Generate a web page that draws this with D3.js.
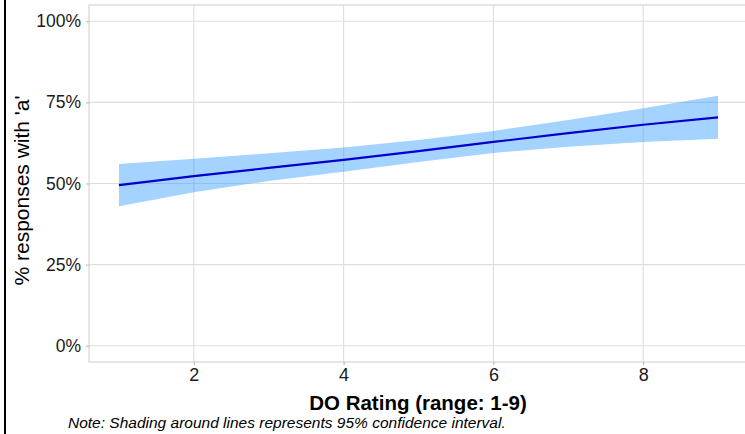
<!DOCTYPE html>
<html>
<head>
<meta charset="utf-8">
<script src="https://cdn.jsdelivr.net/npm/d3@7"></script>
<style>
  body { margin: 0; background: #fff; }
  svg { display: block; font-family: "Liberation Sans", Arial, sans-serif; }
</style>
</head>
<body>
<svg id="chart" width="745" height="434"></svg>
<script>
// values (proportion of 'a' responses)
const ratings = [1, 2, 3, 4, 5, 6, 7, 8, 9];
const fitted  = [0.495, 0.523, 0.548, 0.573, 0.600, 0.628, 0.655, 0.681, 0.704];
const upper   = [0.560, 0.576, 0.593, 0.611, 0.634, 0.662, 0.696, 0.732, 0.770];
const lower   = [0.430, 0.473, 0.508, 0.536, 0.566, 0.594, 0.613, 0.628, 0.638];
const xTicks = [2, 4, 6, 8];
const yTicks = [0, 0.25, 0.5, 0.75, 1];

const rows = ratings.map((r, i) => ({x: r, y: fitted[i], lo: lower[i], hi: upper[i]}));

const svg = d3.select("#chart");
const panel = {left: 89, right: 748, top: 5, bottom: 362};

// ggplot-style 5% expansion
const x = d3.scaleLinear().domain([0.6, 9.4]).range([panel.left, panel.right]);
const y = d3.scaleLinear().domain([-0.05, 1.05]).range([panel.bottom, panel.top]);

// left black border of the image
svg.append("line")
  .attr("x1", 5).attr("x2", 5).attr("y1", 0).attr("y2", 434)
  .attr("stroke", "#000").attr("stroke-width", 2);

// gridlines
svg.append("g").selectAll("line").data(yTicks).join("line")
  .attr("x1", panel.left).attr("x2", panel.right)
  .attr("y1", d => y(d)).attr("y2", d => y(d))
  .attr("stroke", "#dedede").attr("stroke-width", 1.1);
svg.append("g").selectAll("line").data(xTicks).join("line")
  .attr("y1", panel.top).attr("y2", panel.bottom)
  .attr("x1", d => x(d)).attr("x2", d => x(d))
  .attr("stroke", "#dedede").attr("stroke-width", 1.1);

// confidence ribbon
svg.append("path")
  .datum(rows)
  .attr("fill", "dodgerblue").attr("fill-opacity", 0.4)
  .attr("d", d3.area().x(d => x(d.x)).y0(d => y(d.lo)).y1(d => y(d.hi)));

// fitted line
svg.append("path")
  .datum(rows)
  .attr("fill", "none").attr("stroke", "#0000cd").attr("stroke-width", 2.2)
  .attr("d", d3.line().x(d => x(d.x)).y(d => y(d.y)));

// panel border
svg.append("rect")
  .attr("x", panel.left).attr("y", panel.top)
  .attr("width", panel.right - panel.left).attr("height", panel.bottom - panel.top)
  .attr("fill", "none").attr("stroke", "#d0d0d0").attr("stroke-width", 1.1);

// axes
const yAxis = svg.append("g")
  .attr("transform", `translate(${panel.left},0)`)
  .call(d3.axisLeft(y).tickValues(yTicks).tickFormat(d3.format(".0%")).tickSize(3).tickPadding(5));
const xAxis = svg.append("g")
  .attr("transform", `translate(0,${panel.bottom})`)
  .call(d3.axisBottom(x).tickValues(xTicks).tickSize(3).tickPadding(3));
[yAxis, xAxis].forEach(g => {
  g.select(".domain").remove();
  g.selectAll(".tick line").attr("stroke", "#b3b3b3");
  g.selectAll("text")
    .style("font-family", "'Liberation Sans', Arial, sans-serif")
    .attr("fill", "#1a1a1a");
});
yAxis.selectAll("text").style("font-size", "17.5px");
xAxis.selectAll("text").style("font-size", "18px");

// axis titles
svg.append("text")
  .attr("x", 418).attr("y", 410)
  .attr("text-anchor", "middle")
  .style("font-size", "20.5px").style("font-weight", "bold")
  .attr("fill", "#000")
  .text("DO Rating (range: 1-9)");

svg.append("text")
  .attr("transform", `translate(29,${(panel.top + panel.bottom) / 2 + 7}) rotate(-90)`)
  .attr("text-anchor", "middle")
  .style("font-size", "21px")
  .attr("fill", "#000")
  .text("% responses with 'a'");

// note
svg.append("text")
  .attr("x", 68).attr("y", 428)
  .style("font-size", "15.5px").style("font-style", "italic")
  .attr("fill", "#000")
  .text("Note: Shading around lines represents 95% confidence interval.");
</script>
</body>
</html>
